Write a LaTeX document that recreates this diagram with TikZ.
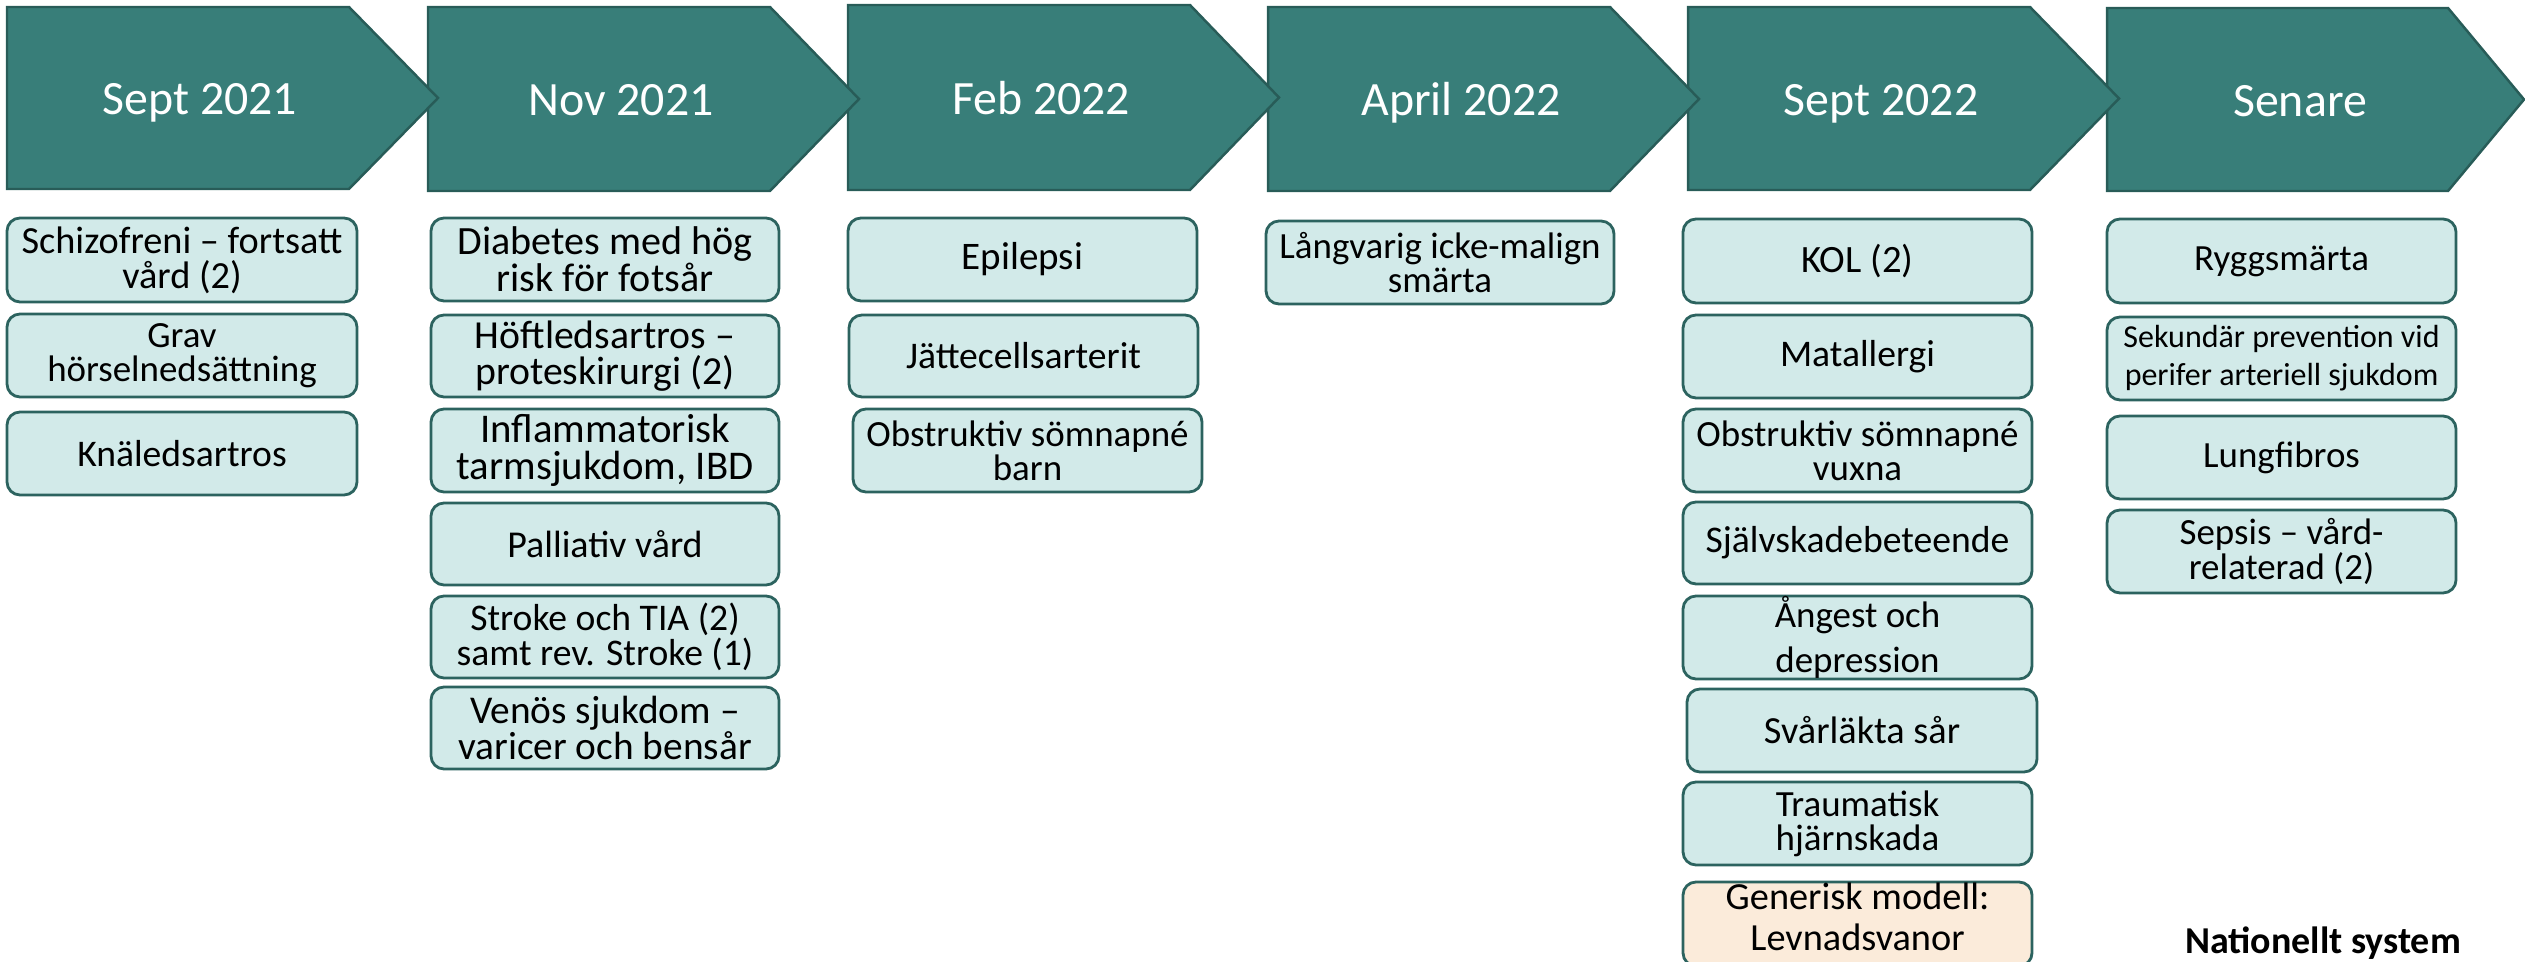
\documentclass[tikz,border=0pt]{standalone}
\usepackage{fontspec}
\setmainfont{Carlito}
\definecolor{arrowfill}{RGB}{56,126,121}
\definecolor{arrowline}{RGB}{40,92,88}
\definecolor{boxfill}{RGB}{210,234,233}
\definecolor{boxline}{RGB}{44,99,95}
\definecolor{creamfill}{RGB}{251,235,218}
\tikzset{
  hdrarrow/.style={fill=arrowfill,draw=arrowline,line width=0.7pt,line join=miter},
  hdrtext/.style={text=white,font=\fontsize{13.6}{16}\selectfont,anchor=base,inner sep=0pt},
  bx/.style={draw=boxline,fill=boxfill,line width=0.8pt,rounded corners=0.13cm,
    align=center,inner sep=0pt,font=\fontsize{10.5}{9.7}\selectfont},
  cream/.style={fill=creamfill},
  fsz/.style={font=\fontsize{#1}{0.93*#1}\selectfont},
  plaintext/.style={align=center,inner sep=0pt},
  nattext/.style={font=\bfseries\fontsize{10.8}{12}\selectfont,anchor=base,inner sep=0pt}
}
\newcommand\hdr[5]{%
  \draw[hdrarrow] (#2,#3) -- ({#2+342},#3) -- ({#2+431},{(#3+#4)/2}) -- ({#2+342},#4) -- (#2,#4) -- cycle;
  \node[hdrtext] (#1) at ({#2+193},{(#3+#4)/2+17}) {#5};}
\newcommand\senarehdr[5]{%
  \draw[hdrarrow] (#2,#3) -- ({#2+341},#3) -- (2524,{(#3+#4)/2}) -- ({#2+341},#4) -- (#2,#4) -- cycle;
  \node[hdrtext] (#1) at ({#2+193},{(#3+#4)/2+17}) {#5};}
\newcommand\bx[7][]{%
  \node[bx,#1,minimum width={(#5-#3)*0.01cm},minimum height={(#6-#4)*0.01cm}] (#2) at ({(#3+#5)/2},{(#4+#6)/2}) {#7};}
\begin{document}
\begin{tikzpicture}[x=0.01cm,y=-0.01cm]
\useasboundingbox (0,0) rectangle (2525,962);
\clip (0,0) rectangle (2525,962);
% header arrows (drawn right to left so the tips overlap the next arrow)
\senarehdr{h6}{2107}{8}{191}{Senare}
\hdr{h5}{1688}{7}{190}{Sept 2022}
\hdr{h4}{1268}{7}{191}{April 2022}
\hdr{h3}{848}{5}{190}{Feb 2022}
\hdr{h2}{428}{7}{191}{Nov 2021}
\hdr{h1}{7}{7}{189}{Sept 2021}
% column 1
\bx[font=\fontsize{10.9}{9.9}\selectfont]{c1a}{7}{218}{357}{302}{Schizofreni – fortsatt\\vård (2)}
\bx{c1b}{7}{314}{357}{397}{Grav\\hörselnedsättning}
\bx[font=\fontsize{10.7}{10}\selectfont]{c1c}{7}{412}{357}{495}{Knäledsartros}
% column 2
\bx[font=\fontsize{11.4}{10.5}\selectfont]{c2a}{431}{218}{779}{301}{Diabetes med hög\\risk för fotsår}
\bx[font=\fontsize{11.3}{10.4}\selectfont]{c2b}{431}{315}{779}{397}{Höftledsartros –\\proteskirurgi (2)}
\bx[font=\fontsize{11.6}{10.6}\selectfont]{c2c}{431}{409}{779}{492}{Inflammatorisk\\tarmsjukdom, IBD}
\bx[font=\fontsize{10.8}{10}\selectfont]{c2d}{431}{503}{779}{585}{Palliativ vård}
\bx[font=\fontsize{10.7}{10}\selectfont]{c2e}{431}{596}{779}{678}{Stroke och TIA (2)\\samt rev. Stroke (1)}
\bx[font=\fontsize{11.2}{10.3}\selectfont]{c2f}{431}{687}{779}{769}{Venös sjukdom –\\varicer och bensår}
% column 3
\bx[font=\fontsize{11.1}{10}\selectfont]{c3a}{848}{218}{1197}{301}{Epilepsi}
\bx[font=\fontsize{10.7}{10}\selectfont]{c3b}{849}{315}{1198}{397}{Jättecellsarterit}
\bx{c3c}{853}{409}{1202}{492}{Obstruktiv sömnapné\\barn}
% column 4
\bx{c4a}{1266}{221}{1614}{304}{Långvarig icke-malign\\smärta}
% column 5
\bx[font=\fontsize{11}{10}\selectfont]{c5a}{1683}{219}{2032}{303}{KOL (2)}
\bx[font=\fontsize{10.7}{10}\selectfont]{c5b}{1683}{315}{2032}{398}{Matallergi}
\bx{c5c}{1683}{409}{2032}{492}{Obstruktiv sömnapné\\vuxna}
\bx[font=\fontsize{10.7}{10}\selectfont]{c5d}{1683}{502}{2032}{584}{Självskadebeteende}
\bx[font=\fontsize{10.5}{12.6}\selectfont]{c5e}{1683}{596}{2032}{679}{Ångest och\\depression}
\bx[font=\fontsize{10.9}{10}\selectfont]{c5f}{1687}{689}{2037}{772}{Svårläkta sår}
\bx{c5g}{1683}{782}{2032}{865}{Traumatisk\\hjärnskada}
\bx[cream]{c5h}{1683}{882}{2032}{966}{}
\node[plaintext,font=\fontsize{10.9}{11.6}\selectfont] (c5ht) at (1857.5,917) {Generisk modell:\\Levnadsvanor};
% column 6
\bx{c6a}{2107}{219}{2456}{303}{Ryggsmärta}
\bx[font=\fontsize{9.1}{10.8}\selectfont]{c6b}{2107}{317}{2456}{400}{Sekundär prevention vid\\perifer arteriell sjukdom}
\bx{c6c}{2107}{416}{2456}{499}{Lungfibros}
\bx{c6d}{2107}{510}{2456}{593}{Sepsis – vård-\\relaterad (2)}
% footer
\node[nattext] (nat) at (2323,953) {Nationellt system};
\end{tikzpicture}
\end{document}
